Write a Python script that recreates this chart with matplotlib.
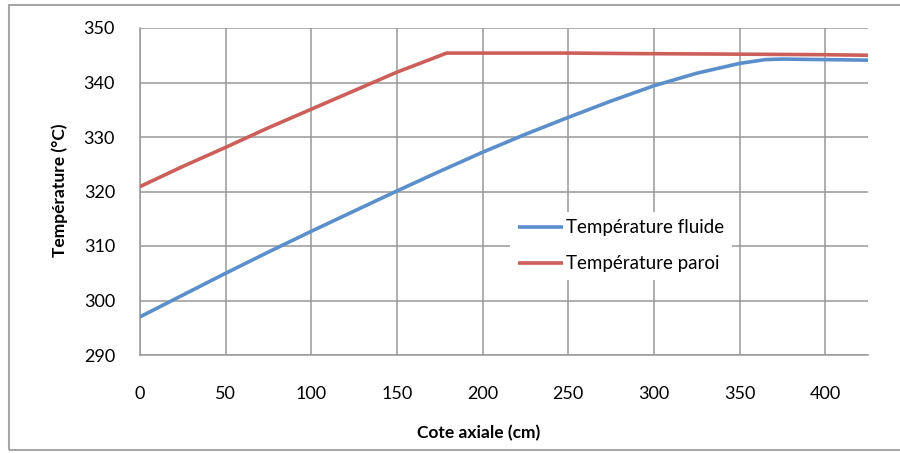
import matplotlib
matplotlib.use("Agg")
import matplotlib.pyplot as plt
from matplotlib.patches import Rectangle

# Data
x_fluide = [0, 25, 50, 75, 100, 125, 150, 175, 200, 225, 250, 275, 300, 325, 350, 365, 375, 400, 425]
t_fluide = [297.0, 301.0, 305.0, 308.9, 312.7, 316.4, 320.1, 323.7, 327.2, 330.5, 333.6, 336.6, 339.4,
            341.7, 343.5, 344.2, 344.3, 344.2, 344.1]
x_paroi = [0, 25, 50, 75, 100, 125, 150, 165, 179, 200, 250, 290, 350, 400, 425]
t_paroi = [320.9, 324.6, 328.1, 331.7, 335.1, 338.5, 341.9, 343.7, 345.4, 345.4, 345.4, 345.3, 345.2, 345.1, 345.0]
x_ticks = [0, 50, 100, 150, 200, 250, 300, 350, 400]
y_ticks = [290, 300, 310, 320, 330, 340, 350]
label_fluide = "Température fluide"
label_paroi = "Température paroi"
xlabel = "Cote axiale (cm)"
ylabel = "Température (°C)"

plt.rcParams['font.family'] = ['Lato', 'DejaVu Sans']

W, H = 900, 453
fig = plt.figure(figsize=(W / 100, H / 100), dpi=100)
ax = fig.add_axes([140 / W, 1 - 355 / H, (868 - 140) / W, (355 - 28) / H])

grid_c = '#999999'
# outer chart frame
fig.patches.append(Rectangle((9 / W, 1 - 450 / H), (910 - 9) / W, (450 - 5) / H,
                             transform=fig.transFigure, fill=False, edgecolor='#a6a6a6',
                             linewidth=1.5, clip_on=False))

ax.plot(x_fluide, t_fluide, color='#5A8FCB', lw=2.6, label=label_fluide, solid_capstyle='butt', zorder=3)
ax.plot(x_paroi, t_paroi, color='#CD5F5A', lw=2.6, label=label_paroi, solid_capstyle='butt', zorder=3)

ax.set_xlim(0, 425)
ax.set_ylim(290, 350)
ax.set_xticks(x_ticks)
ax.set_yticks(y_ticks)
ax.grid(True, color=grid_c, lw=1.1)
ax.set_axisbelow(True)
for s in ['top', 'right']:
    ax.spines[s].set_visible(False)
for s in ['left', 'bottom']:
    ax.spines[s].set_color(grid_c)
    ax.spines[s].set_linewidth(1.1)
ax.tick_params(length=0, labelsize=13, colors='black')
ax.tick_params(axis='x', pad=22)
ax.tick_params(axis='y', pad=18)

fig.text(479 / W, 1 - 433 / H, xlabel, ha='center', va='center', fontsize=12.5, fontweight='bold')
fig.text(60 / W, 1 - 190 / H, ylabel, ha='center', va='center', rotation=90, fontsize=12.5, fontweight='bold')

leg = ax.legend(loc='upper left', bbox_to_anchor=(510 / W, 1 - 212 / H), bbox_transform=fig.transFigure,
                frameon=True, fontsize=13.5, handlelength=2.4, handletextpad=0.2, borderpad=0.4,
                labelspacing=1.0, borderaxespad=0)
leg.get_frame().set_facecolor('white')
leg.get_frame().set_edgecolor('none')
leg.get_frame().set_alpha(1)
leg.get_frame().set_boxstyle('square', pad=0)

fig.savefig('out.png', dpi=100)
